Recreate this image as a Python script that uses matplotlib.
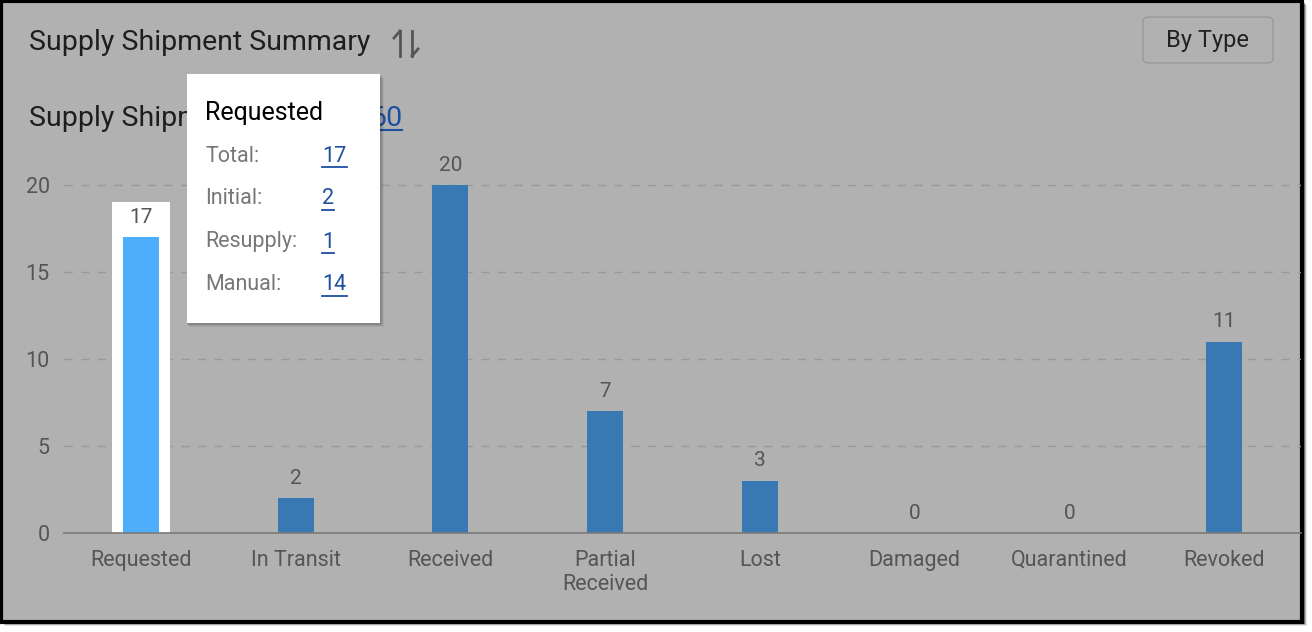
import matplotlib.pyplot as plt
from matplotlib.patches import Rectangle, FancyBboxPatch
from matplotlib.lines import Line2D

plt.rcParams['font.family'] = ['Roboto', 'DejaVu Sans']

# chart data
categories = ['Requested', 'In Transit', 'Received', 'Partial\nReceived',
              'Lost', 'Damaged', 'Quarantined', 'Revoked']
counts = [17, 2, 20, 7, 3, 0, 0, 11]
highlight = 'Requested'
y_ticks = [0, 5, 10, 15, 20]

title = 'Supply Shipment Summary'
subtitle = 'Supply Shipments Total: '
total = sum(counts)
button_text = 'By Type'

tip_title = 'Requested'
tip_labels = ['Total:', 'Initial:', 'Resupply:', 'Manual:']
tip_values = [17, 2, 1, 14]

W, H = 1312, 632
BG = '#b1b1b1'
BAR = '#3878b3'
BAR_HI = '#4daefc'
TXT = '#555555'
LINK = '#1f4fa0'

fig = plt.figure(figsize=(W / 100, H / 100), dpi=100)
fig.patch.set_facecolor('white')


def fx(x):
    return x / W


def fy(y):
    return 1 - y / H


def frect(x0, y0, x1, y1, **kw):
    r = Rectangle((fx(x0), fy(y1)), (x1 - x0) / W, (y1 - y0) / H,
                  transform=fig.transFigure, **kw)
    fig.patches.append(r)
    return r


def fline(xs, ys, **kw):
    fig.lines.append(Line2D([fx(v) for v in xs], [fy(v) for v in ys],
                            transform=fig.transFigure, **kw))


# panel shadow + frame
for i, a in enumerate([0.35, 0.2, 0.1]):
    frect(3 + i, 3 + i, 1305 + i, 624 + i, facecolor='black', alpha=a, zorder=0)
frect(1, 1, 1302, 622, facecolor=BG, edgecolor='black', linewidth=3, zorder=1)

# header
fig.text(fx(29), fy(42), title, fontsize=20.5, color='#1e1e1e', va='center', ha='left', zorder=2)
# sort icon
fline([400, 400], [56, 31], color='#555555', lw=2, zorder=2)
fline([400, 394], [31, 38], color='#555555', lw=2, zorder=2)
fline([412, 412], [31, 56], color='#555555', lw=2, zorder=2)
fline([412, 418], [56, 49], color='#555555', lw=2, zorder=2)

# button
btn = FancyBboxPatch((fx(1143), fy(63)), (1273 - 1143) / W, (63 - 17) / H,
                     boxstyle='round,pad=0,rounding_size=0.006', transform=fig.transFigure,
                     facecolor=BG, edgecolor='#999999', linewidth=1, zorder=2)
fig.patches.append(btn)
fig.text(fx(1208), fy(40), button_text, fontsize=17, color='#222222',
         ha='center', va='center', zorder=3)

# subtitle
fig.text(fx(29), fy(118), subtitle, fontsize=20.5, color='#1e1e1e', va='center', ha='left',
         zorder=2)
fig.text(fx(370), fy(118), str(total), fontsize=20.5, color=LINK, va='center', ha='left',
         zorder=2)
fline([370, 402], [130, 130], color=LINK, lw=1.5, zorder=2)

# chart axes
ax = fig.add_axes([63.65 / W, (H - 533) / H, 1237.6 / W, 382.8 / H])
ax.set_facecolor('none')
ax.set_zorder(3)
x = list(range(len(categories)))
colors = [BAR_HI if c == highlight else BAR for c in categories]
for xi, c in zip(x, categories):
    if c == highlight:
        ax.bar(xi, 19.0, width=0.375, color='white', zorder=1)
ax.bar(x, counts, width=0.233, color=colors, zorder=2)
for xi, v in zip(x, counts):
    ax.text(xi, v + 0.6, str(v), ha='center', va='bottom', fontsize=15, color=TXT, zorder=3)

ax.set_xlim(-0.5, 7.5)
ax.set_ylim(0, 22)
ax.set_yticks(y_ticks)
ax.set_xticks(x)
ax.set_xticklabels(categories, linespacing=1.2)
ax.tick_params(axis='both', length=0, labelsize=15.5, labelcolor=TXT)
ax.tick_params(axis='x', pad=12)
ax.tick_params(axis='y', pad=10)
for v in y_ticks[1:]:
    ax.axhline(v, color='#999999', lw=1, ls=(0, (6, 6)), zorder=0)
for s in ['top', 'right', 'left']:
    ax.spines[s].set_visible(False)
ax.spines['bottom'].set_color('#7a7a7a')
ax.spines['bottom'].set_linewidth(1.2)

# tooltip
for i, a in enumerate([0.12, 0.08, 0.05]):
    frect(187 + i, 76 + i, 382 + i, 325 + i, facecolor='black', alpha=a, zorder=8)
frect(187, 74, 380, 323, facecolor='white', zorder=9)
fig.text(fx(205), fy(113), tip_title, fontsize=18, color='black', va='center', ha='left',
         zorder=10)
for i, (lab, val) in enumerate(zip(tip_labels, tip_values)):
    yy = 156 + 43 * i
    fig.text(fx(205), fy(yy), lab, fontsize=15.5, color='#777777', va='center', ha='left',
             zorder=10)
    fig.text(fx(322), fy(yy), str(val), fontsize=15.5, color=LINK, va='center',
             ha='left', zorder=10)
    wpx = 25 if val >= 10 else 12
    fline([322, 322 + wpx], [yy + 11, yy + 11], color=LINK, lw=1.3, zorder=10)

fig.savefig('out.png', dpi=100, facecolor=fig.get_facecolor())
